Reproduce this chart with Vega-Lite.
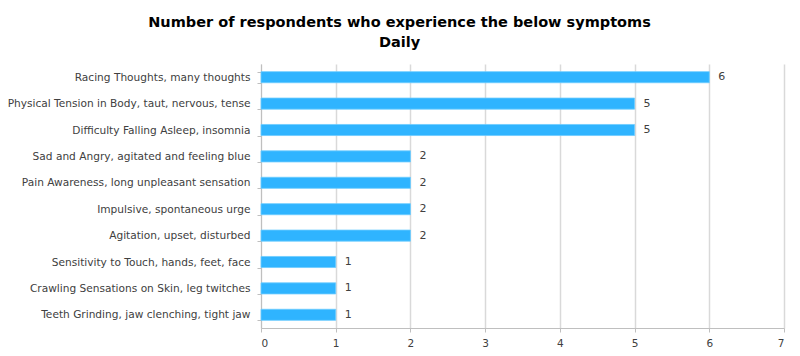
{
  "$schema": "https://vega.github.io/schema/vega-lite/v6.json",
  "autosize": "none",
  "width": 523,
  "height": 264,
  "padding": {"left": 261, "top": 64, "right": 16, "bottom": 28},
  "background": "white",
  "config": {
    "font": "DejaVu Sans",
    "view": {"stroke": null}
  },
  "title": {
    "text": ["Number of respondents who experience the below symptoms", "Daily"],
    "fontSize": 14.5,
    "fontWeight": "bold",
    "color": "#000000",
    "font": "DejaVu Sans",
    "lineHeight": 20,
    "anchor": "middle",
    "frame": "group",
    "dx": -123,
    "offset": 9
  },
  "data": {
    "values": [
      {"symptom": "Racing Thoughts, many thoughts", "count": 6},
      {"symptom": "Physical Tension in Body, taut, nervous, tense", "count": 5},
      {"symptom": "Difficulty Falling Asleep, insomnia", "count": 5},
      {"symptom": "Sad and Angry, agitated and feeling blue", "count": 2},
      {"symptom": "Pain Awareness, long unpleasant sensation", "count": 2},
      {"symptom": "Impulsive, spontaneous urge ", "count": 2},
      {"symptom": "Agitation, upset, disturbed", "count": 2},
      {"symptom": "Sensitivity to Touch, hands, feet, face", "count": 1},
      {"symptom": "Crawling Sensations on Skin, leg twitches", "count": 1},
      {"symptom": "Teeth Grinding, jaw clenching, tight jaw", "count": 1}
    ]
  },
  "encoding": {
    "y": {
      "field": "symptom",
      "type": "nominal",
      "sort": null,
      "scale": {"paddingInner": 0.58, "paddingOuter": 0.29},
      "axis": {
        "title": null,
        "tickBand": "extent",
        "domainColor": "#bfbfbf",
        "tickColor": "#bfbfbf",
        "tickSize": 4,
        "labelFontSize": 10.6,
        "labelColor": "#404040",
        "labelPadding": 7,
        "labelLimit": 300
      }
    },
    "x": {
      "field": "count",
      "type": "quantitative",
      "scale": {"domain": [0, 7], "nice": false},
      "axis": {
        "title": null,
        "values": [0, 1, 2, 3, 4, 5, 6, 7],
        "format": "d",
        "gridColor": "#d9d9d9",
        "gridWidth": 1.5,
        "domainColor": "#bfbfbf",
        "tickColor": "#bfbfbf",
        "tickSize": 4,
        "labelFontSize": 10.5,
        "labelColor": "#404040",
        "labelPadding": 6
      }
    }
  },
  "layer": [
    {
      "mark": {"type": "bar", "color": "#2fb4ff", "stroke": "#6ccbff", "strokeWidth": 0.8}
    },
    {
      "mark": {"type": "text", "align": "left", "dx": 9, "fontSize": 11, "color": "#404040"},
      "encoding": {"text": {"field": "count", "type": "quantitative"}}
    }
  ]
}
